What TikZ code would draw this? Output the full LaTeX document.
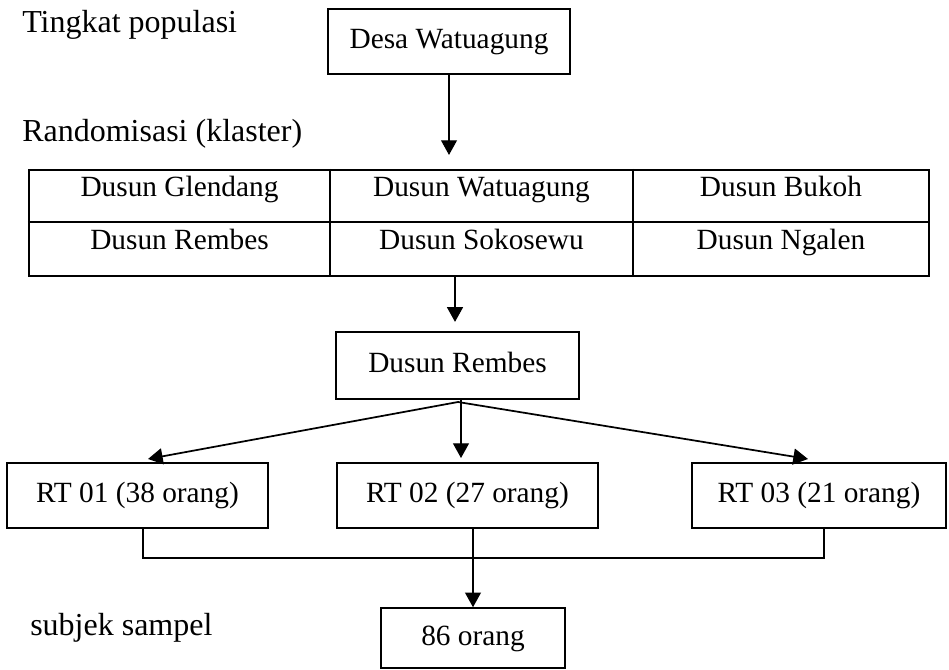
\documentclass[tikz,border=0pt]{standalone}
\usepackage{fontspec}
\setmainfont{Liberation Serif}
\usetikzlibrary{arrows.meta}
\begin{document}
\begin{tikzpicture}[x=0.75pt,y=-0.75pt,
  box/.style={draw,line width=1.2pt,inner sep=0pt,text height=15pt,text depth=4.5pt,font=\fontsize{22}{26}\selectfont},
  lbl/.style={anchor=base west,inner sep=0pt,font=\fontsize{24}{28}\selectfont},
  cell/.style={anchor=base,inner sep=0pt,font=\fontsize{22}{26}\selectfont},
  arr/.style={line width=0.8pt,-{Triangle[length=11pt,width=12pt]}},
  thickarr/.style={line width=1.3pt,-{Triangle[length=11pt,width=12pt]}},
  conn/.style={line width=1.2pt}]
\useasboundingbox (0,0) rectangle (949,670);
% labels
\node[lbl] (l1) at (22,33) {Tingkat populasi};
\node[lbl] (l2) at (22,142) {Randomisasi (klaster)};
\node[lbl] (l3) at (30,635) {subjek sampel};
% boxes
\node[box,minimum width=181.5pt,minimum height=48.75pt] (desa) at (449,41.5) {Desa Watuagung};
\node[draw,line width=1.6pt,inner sep=0pt,minimum width=675pt,minimum height=79.5pt] (tab) at (479,223) {};
\coordinate (v1) at (330,0);
\coordinate (v2) at (633,0);
\coordinate (hm) at (0,222);
\draw[line width=0.8pt] (tab.west |- hm) -- (tab.east |- hm);
\draw[line width=0.8pt] (tab.north -| v1) -- (tab.south -| v1);
\draw[line width=0.8pt] (tab.north -| v2) -- (tab.south -| v2);
\node[cell] (c11) at (179.5,197) {Dusun Glendang};
\node[cell] (c12) at (481.5,197) {Dusun Watuagung};
\node[cell] (c13) at (781,197) {Dusun Bukoh};
\node[cell] (c21) at (179.5,250) {Dusun Rembes};
\node[cell] (c22) at (481.5,250) {Dusun Sokosewu};
\node[cell] (c23) at (781,250) {Dusun Ngalen};
\node[box,minimum width=182.25pt,minimum height=50.25pt] (rembes) at (457.5,365.5) {Dusun Rembes};
\node[box,minimum width=195.75pt,minimum height=48.75pt] (rt1) at (137.5,495.5) {RT 01 (38 orang)};
\node[box,minimum width=195.75pt,minimum height=48.75pt] (rt2) at (467.5,495.5) {RT 02 (27 orang)};
\node[box,minimum width=190.5pt,minimum height=48.75pt] (rt3) at (819,495.5) {RT 03 (21 orang)};
\node[box,minimum width=138pt,minimum height=45pt] (res) at (473,638) {86 orang};
% arrows
\draw[arr,shorten >=10.5pt] (desa.south) -- (desa.south |- tab.north);
\coordinate (t2) at (455,0);
\draw[arr,shorten >=7pt] (tab.south -| t2) -- (rembes.north -| t2);
\coordinate (fo) at (458,402);
\coordinate (f1) at (148,459);
\coordinate (f2) at (461,458);
\coordinate (f3) at (808,459);
\draw[thickarr] (fo) -- (f1);
\draw[arr] (rembes.south -| f2) -- (f2);
\draw[thickarr] (fo) -- (f3);
\coordinate (a1) at (143,558);
\coordinate (a3) at (824,558);
\draw[conn] (rt1.south -| a1) -- (a1) -- (a3) -- (rt3.south -| a3);
\draw[arr] (rt2.south -| res.north) -- (res.north);
\end{tikzpicture}
\end{document}
